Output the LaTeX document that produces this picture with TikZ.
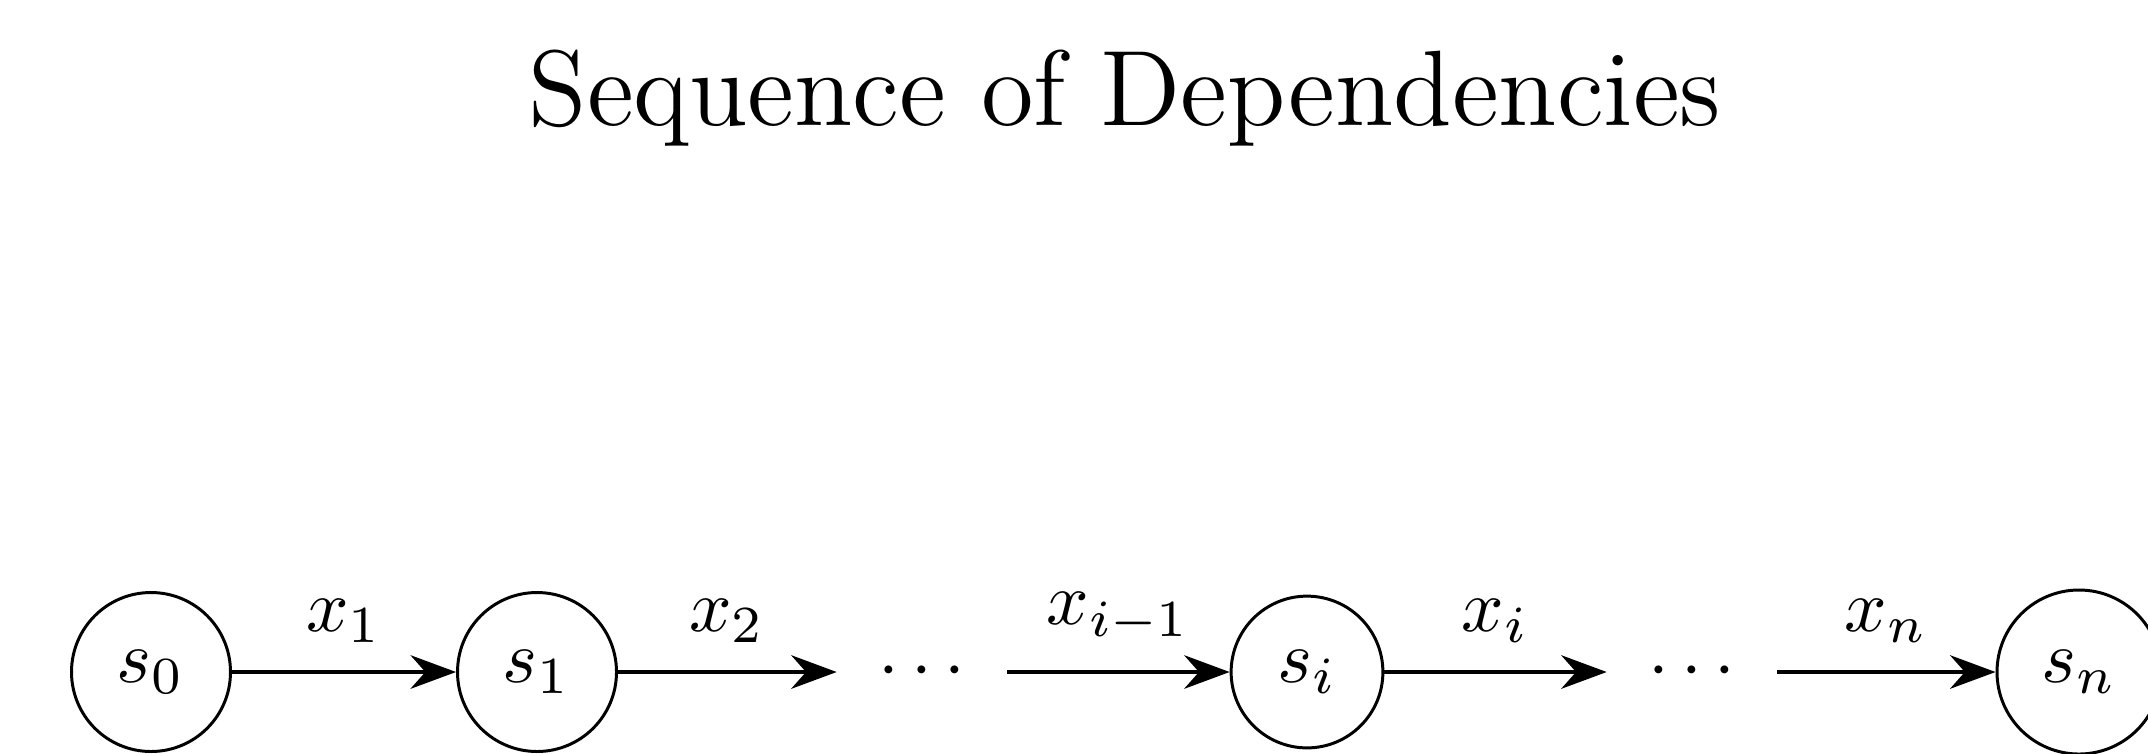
\documentclass[tikz,border=0pt]{standalone}
\usetikzlibrary{arrows.meta}
\begin{document}
\begin{tikzpicture}[x=0.13423pt,y=-0.13423pt,
  state/.style={circle,draw,line width=0.4pt,inner sep=3.75pt},
  gap/.style={circle,inner sep=3.75pt},
  link/.style={-{Stealth[length=6.1pt,width=4.5pt]},line width=0.5pt},
  lab/.style={above,inner sep=3.75pt}]
\useasboundingbox (0,0) rectangle (2148,753);
\node[font=\Large,anchor=base] (title) at (1125,125) {Sequence of Dependencies};
\node[state] (s0) at (151,672) {$s_0$};
\node[state] (s1) at (537,672) {$s_1$};
\node[gap] (d1) at (922,672) {$\cdots$};
\node[state] (si) at (1307,672) {$s_i$};
\node[gap] (d2) at (1692,672) {$\cdots$};
\node[state] (sn) at (2079,672) {$s_n$};
\draw[link] (s0) -- node[lab] (l1) {$x_1$} (s1);
\draw[link] (s1) -- node[lab] (l2) {$x_2$} (d1);
\draw[link] (d1) -- node[lab] (l3) {$x_{i-1}$} (si);
\draw[link] (si) -- node[lab] (l4) {$x_i$} (d2);
\draw[link] (d2) -- node[lab] (l5) {$x_n$} (sn);
\end{tikzpicture}
\end{document}
